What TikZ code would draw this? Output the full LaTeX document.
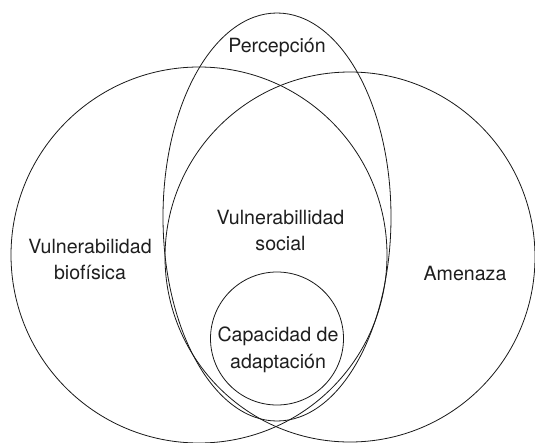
\documentclass[tikz,border=0pt]{standalone}
\usepackage{fontspec}
\setmainfont{TeX Gyre Heros}
\begin{document}
\begin{tikzpicture}[x=1pt,y=-1pt,
  set/.style={draw=black!90, line width=0.8pt},
  lbl/.style={font=\fontsize{19.6}{26.5}\selectfont, text=black!88, align=center, inner sep=0pt, anchor=base}]
\useasboundingbox (0,0) rectangle (535,442);
\fill[white] (0,0) rectangle (535,442);
% sets
\draw[set] (199,255) circle[radius=188];
\draw[set] (350,257) circle[radius=185];
\draw[set] (277,217) ellipse[x radius=114, y radius=204];
\draw[set] (277,338.5) circle[radius=66.5];
% labels (base anchor = baseline of the last line)
\node[lbl] (perc) at (277,52) {Percepción};
\node[lbl] (soc) at (280.5,250.5) {Vulnerabillidad\\social};
\node[lbl] (bio) at (90,279.5) {Vulnerabilidad\\biofísica};
\node[lbl] (ame) at (465,280) {Amenaza};
\node[lbl] (cap) at (278,368) {Capacidad de\\adaptación};
\end{tikzpicture}
\end{document}
